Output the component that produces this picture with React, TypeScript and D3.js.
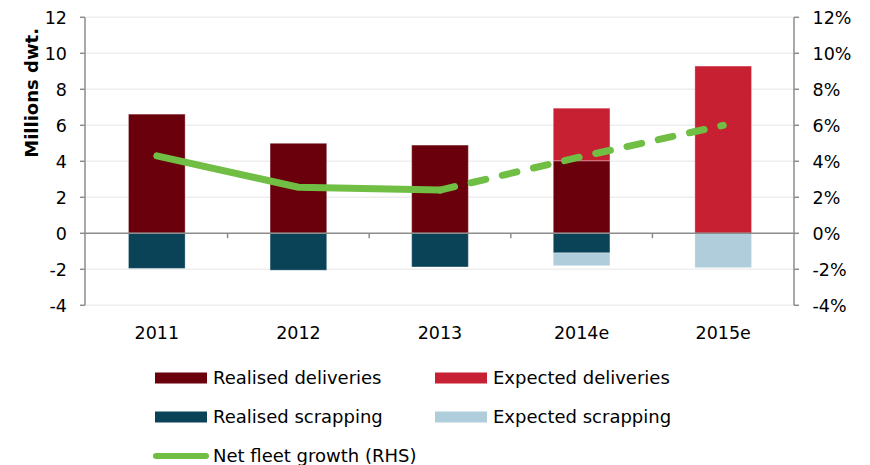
import React from "react";
import * as d3 from "d3";

const categories = ["2011", "2012", "2013", "2014e", "2015e"];
const realisedDeliveries = [6.62, 5.0, 4.9, 4.03, 0];
const expectedDeliveries = [0, 0, 0, 2.92, 9.29];
const realisedScrapping = [-1.95, -2.05, -1.87, -1.09, 0];
const expectedScrapping = [0, 0, 0, -0.71, -1.91];
const netGrowthActual: (number | null)[] = [4.3, 2.56, 2.4, null, null];
const netGrowthExpected: (number | null)[] = [null, null, 2.4, 4.26, 6.0];
const leftTicks = [-4, -2, 0, 2, 4, 6, 8, 10, 12];
const rightTicks = [-4, -2, 0, 2, 4, 6, 8, 10, 12];

const C_RD = "#6A000B";
const C_ED = "#C82033";
const C_RS = "#0A4358";
const C_ES = "#AFCDDB";
const C_LINE = "#70BF44";
const AXIS = "#8C8C8C";
const GRID = "#EEEEEE";
const FONT = "Verdana, 'DejaVu Sans', sans-serif";

export default function App() {
  const W = 870, H = 465;
  const x0 = 86, x1 = 794;
  const x = d3.scaleBand<string>().domain(categories).range([x0, x1]).paddingInner(0.6).paddingOuter(0.3);
  const y = d3.scaleLinear().domain([-4, 12]).range([305.3, 17.3]);
  const yr = d3.scaleLinear().domain([-4, 12]).range([305.3, 17.3]);
  const bw = x.bandwidth();
  const cx = (c: string) => (x(c) as number) + bw / 2;

  const lineGen = d3
    .line<number | null>()
    .defined((d) => d !== null)
    .x((_, i) => cx(categories[i]))
    .y((d) => yr(d as number));

  const edge = "rgba(255,255,255,0.3)";
  const bars: JSX.Element[] = [];
  categories.forEach((c, i) => {
    const bx = x(c) as number;
    const rd = realisedDeliveries[i];
    const ed = expectedDeliveries[i];
    const rs = realisedScrapping[i];
    const es = expectedScrapping[i];
    if (rd > 0) bars.push(<rect key={"rd" + i} x={bx} width={bw} y={y(rd)} height={y(0) - y(rd)} fill={C_RD} stroke={edge} strokeWidth={1} />);
    if (ed > 0) bars.push(<rect key={"ed" + i} x={bx} width={bw} y={y(rd + ed)} height={y(rd) - y(rd + ed)} fill={C_ED} stroke={edge} strokeWidth={1} />);
    if (rs < 0) bars.push(<rect key={"rs" + i} x={bx} width={bw} y={y(0)} height={y(rs) - y(0)} fill={C_RS} stroke={edge} strokeWidth={1} />);
    if (es < 0) bars.push(<rect key={"es" + i} x={bx} width={bw} y={y(rs)} height={y(rs + es) - y(rs)} fill={C_ES} stroke={edge} strokeWidth={1} />);
  });

  const boundaries = categories.slice(1).map((c) => (x(c) as number) - (x.step() - bw) / 2);

  const legendRects = [
    { label: "Realised deliveries", color: C_RD, sx: 155, ty: 378 },
    { label: "Expected deliveries", color: C_ED, sx: 435, ty: 378 },
    { label: "Realised scrapping", color: C_RS, sx: 155, ty: 417 },
    { label: "Expected scrapping", color: C_ES, sx: 435, ty: 417 },
  ];

  const TF = 17.5;
  const LF = 18;

  return (
    <svg width={W} height={H} style={{ position: "absolute", left: 0, top: 0 }} fontFamily={FONT}>
      <rect width={W} height={H} fill="#fff" />
      {leftTicks.filter((t) => t !== 0).map((t) => (
        <line key={"g" + t} x1={x0} x2={x1} y1={y(t)} y2={y(t)} stroke={GRID} strokeWidth={1.5} />
      ))}
      {bars}
      {/* zero axis */}
      <line x1={x0 - 1} x2={x1} y1={y(0)} y2={y(0)} stroke={AXIS} strokeWidth={1.5} />
      {boundaries.map((b, i) => (
        <line key={"bt" + i} x1={b} x2={b} y1={y(0)} y2={y(0) + 5} stroke={AXIS} strokeWidth={1.5} />
      ))}
      {/* left axis */}
      <line x1={x0 - 1} x2={x0 - 1} y1={y(12)} y2={y(-4)} stroke={AXIS} strokeWidth={1.5} />
      {leftTicks.map((t) => (
        <g key={"lt" + t}>
          <line x1={x0 - 6} x2={x0 - 1} y1={y(t)} y2={y(t)} stroke={AXIS} strokeWidth={1.5} />
          <text x={67} y={y(t)} dy="0.36em" textAnchor="end" fontSize={TF} fill="#000">{t}</text>
        </g>
      ))}
      {/* right axis */}
      <line x1={x1} x2={x1} y1={yr(12)} y2={yr(-4)} stroke={AXIS} strokeWidth={1.5} />
      {rightTicks.map((t) => (
        <g key={"rt" + t}>
          <line x1={x1} x2={x1 + 5} y1={yr(t)} y2={yr(t)} stroke={AXIS} strokeWidth={1.5} />
          <text x={812.5} y={yr(t)} dy="0.36em" textAnchor="start" fontSize={TF} fill="#000">{t + "%"}</text>
        </g>
      ))}
      {/* category labels */}
      {categories.map((c) => (
        <text key={"c" + c} x={cx(c)} y={339} textAnchor="middle" fontSize={TF} fill="#000">{c}</text>
      ))}
      {/* y title */}
      <text transform="translate(38,28) rotate(-90)" textAnchor="end" fontSize={18} fontWeight="bold" fill="#000">Millions dwt.</text>
      {/* lines */}
      <path d={lineGen(netGrowthActual) || ""} fill="none" stroke={C_LINE} strokeWidth={7} strokeLinecap="round" strokeLinejoin="round" />
      <path d={lineGen(netGrowthExpected) || ""} fill="none" stroke={C_LINE} strokeWidth={7} strokeLinecap="round" strokeLinejoin="round" strokeDasharray="15,17" />
      {/* legend */}
      {legendRects.map((l) => (
        <g key={l.label}>
          <rect x={l.sx} y={l.ty - 5.5} width={52} height={11} fill={l.color} />
          <text x={l.sx + 58} y={l.ty} dy="0.36em" fontSize={LF} fill="#000">{l.label}</text>
        </g>
      ))}
      <line x1={156} x2={206} y1={456} y2={456} stroke={C_LINE} strokeWidth={6} strokeLinecap="round" />
      <text x={213} y={456} dy="0.36em" fontSize={LF} fill="#000">Net fleet growth (RHS)</text>
    </svg>
  );
}
